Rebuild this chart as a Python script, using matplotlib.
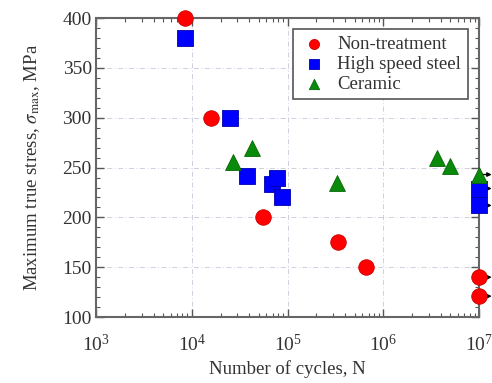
import numpy as np
import matplotlib
matplotlib.use('Agg')
import matplotlib.pyplot as plt
from matplotlib import rcParams
from matplotlib.ticker import LogLocator, MultipleLocator, NullFormatter

rcParams['font.family'] = 'serif'
rcParams['font.serif'] = ['Liberation Serif', 'DejaVu Serif']
rcParams['mathtext.fontset'] = 'stix'
rcParams['font.size'] = 13

# --- data ---
non_N = [8.5e3, 1.6e4, 5.5e4, 3.4e5, 6.6e5, 1e7, 1e7]
non_S = [400, 300, 200, 175, 150, 140, 121]
hss_N = [8.5e3, 2.5e4, 3.8e4, 6.8e4, 7.8e4, 8.7e4, 1e7, 1e7]
hss_S = [380, 300, 242, 234, 240, 220, 229, 212]
cer_N = [2.7e4, 4.3e4, 3.3e5, 3.6e6, 5.0e6, 1e7]
cer_S = [256, 270, 235, 260, 252, 243]
# run-out specimens (no failure at 1e7 cycles)
runout_N = [1e7, 1e7, 1e7, 1e7, 1e7]
runout_S = [243, 229, 212, 140, 121]

fig = plt.figure(figsize=(4.92, 3.83), dpi=100)
ax = fig.add_axes([0.195, 0.172, 0.779, 0.781])

ax.scatter(non_N, non_S, marker='o', s=125, c='#ff0000', edgecolors='#cc0000',
           linewidths=0.6, label='Non-treatment', zorder=3, clip_on=False)
ax.scatter(hss_N, hss_S, marker='s', s=120, c='#0000ff', edgecolors='#0000aa',
           linewidths=0.6, label='High speed steel', zorder=3, clip_on=False)
ax.scatter(cer_N, cer_S, marker='^', s=130, c='#0a8a0a', edgecolors='#066606',
           linewidths=0.6, label='Ceramic', zorder=4, clip_on=False)

for n, s in zip(runout_N, runout_S):
    ax.annotate('', xy=(n * 1.35, s), xytext=(n, s), annotation_clip=False,
                arrowprops=dict(arrowstyle='-|>', color='black', lw=1.0,
                                mutation_scale=6, shrinkA=0, shrinkB=0), zorder=2)

ax.set_xscale('log')
ax.set_xlim(1e3, 1e7)
ax.set_ylim(100, 400)
ax.xaxis.set_major_locator(LogLocator(base=10, numticks=10))
ax.xaxis.set_minor_locator(LogLocator(base=10, subs=np.arange(2, 10), numticks=10))
ax.xaxis.set_minor_formatter(NullFormatter())
ax.yaxis.set_major_locator(MultipleLocator(50))
ax.yaxis.set_minor_locator(MultipleLocator(10))

ax.tick_params(which='both', direction='in', top=True, right=True, colors='#555555',
               labelcolor='#333333', labelsize=14)
ax.tick_params(which='major', length=6, width=1.0)
ax.tick_params(which='minor', length=3, width=0.8)
ax.tick_params(axis='x', pad=12)
ax.tick_params(axis='y', pad=3)
for sp in ax.spines.values():
    sp.set_color('#666666')
    sp.set_linewidth(1.5)

ax.grid(True, which='major', ls=(0, (6, 3, 1, 3)), lw=0.6, color='#c8c8dc')

ax.set_xlabel('Number of cycles, N', fontsize=13.5, color='#333333', labelpad=4)
ax.set_ylabel(r'Maximum true stress, $\sigma_{\mathrm{max}}$, MPa', fontsize=13.5,
              color='#333333', labelpad=15)

leg = ax.legend(loc='upper right', bbox_to_anchor=(0.98, 0.975), fontsize=13.5,
                fancybox=False, edgecolor='#555555', framealpha=1,
                handletextpad=0.5, borderpad=0.35, labelspacing=0.15,
                handlelength=1.5, markerscale=0.65, borderaxespad=0.2)
leg.get_frame().set_linewidth(1.2)
for t in leg.get_texts():
    t.set_color('#333333')

fig.savefig('out.png', dpi=100)
